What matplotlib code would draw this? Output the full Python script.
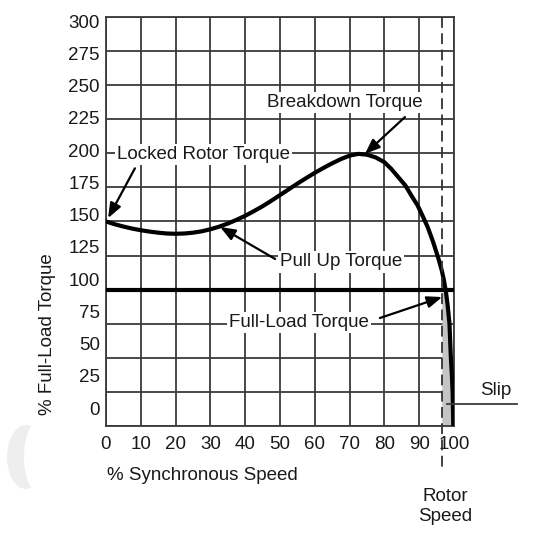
import numpy as np
import matplotlib
matplotlib.use('Agg')
import matplotlib.pyplot as plt
from matplotlib.patches import Ellipse

# torque-speed curve
speed = [0, 2.5, 5, 7.5, 10, 12.5, 15, 17.5, 20, 22.5, 25, 27.5, 30, 32.5, 35,
         37.5, 40, 42.5, 45, 47.5, 50, 52.5, 55, 57.5, 60, 62.5, 65, 67.5, 70,
         72.5, 75, 77.5, 80, 82, 84, 86, 88, 89.5, 91, 92.5, 94, 95.5, 96.5,
         97.1, 97.7, 98.2, 98.7, 99.1, 99.4, 99.6, 99.8]
torque = [150, 148, 146.3, 144.8, 143.6, 142.6, 141.8, 141.2, 141, 141.2, 141.8,
          142.8, 144.3, 146.2, 148.5, 151.2, 154.2, 157.6, 161.2, 165.2, 169.4,
          173.6, 177.8, 181.8, 185.7, 189.3, 192.7, 195.8, 198.3, 199.6, 199,
          197, 193.5, 188.5, 182.5, 176.5, 168, 162, 154, 145.5, 135, 123, 114,
          107, 98, 88, 75, 50, 37, 25, 0]

full_load = 100
rotor_speed = 96.5

x_ticks = [0, 10, 20, 30, 40, 50, 60, 70, 80, 90, 100]
y_ticks = [0, 25, 50, 75, 100, 125, 150, 175, 200, 225, 250, 275, 300]

# slip region: part of the curve below full load
slip_speed = [97.7, 98.2, 98.7, 99.1, 99.4, 99.6, 99.8]
slip_torque = [98, 88, 75, 50, 37, 25, 0]

plt.rcParams['font.family'] = ['Liberation Sans', 'DejaVu Sans']
fs = 13.5
grid_col = '#3a3a3a'
text_col = '#1a1a1a'

fig = plt.figure(figsize=(5.39, 5.35), dpi=100)
ax = fig.add_axes([106 / 539, 1 - 426 / 535, 348 / 539, 409 / 535])
ax.set_xlim(0, 100)
ax.set_ylim(0, 300)

for v in x_ticks:
    ax.axvline(v, color=grid_col, lw=1.3, zorder=1)
for v in y_ticks:
    ax.axhline(v, color=grid_col, lw=1.3, zorder=1)
for s in ax.spines.values():
    s.set_color(grid_col)
    s.set_linewidth(1.3)

# labels sit a bit off the grid lines in the original
label_pos = 13.2 + np.array(y_ticks) * 0.946
ax.set_yticks(label_pos, [str(v) for v in y_ticks])
ax.set_xticks(x_ticks, [str(v) for v in x_ticks])
ax.tick_params(length=0, labelsize=fs, colors=text_col)
ax.tick_params(axis='y', pad=4.5)
ax.tick_params(axis='x', pad=7)

ax.fill_betweenx(slip_torque, rotor_speed, slip_speed, color='#c4c4c4', lw=0, zorder=2)
ax.axhline(full_load, color='black', lw=3, zorder=3)
ax.plot(speed, torque, color='black', lw=3, zorder=4, solid_joinstyle='round')

ax.plot([rotor_speed, rotor_speed], [300, -33.7], color='#333333', lw=1.3,
        ls=(0, (6, 3)), clip_on=False, zorder=5)

box = dict(facecolor='white', edgecolor='none', pad=1.5)
arrow = dict(arrowstyle='-|>,head_length=0.9,head_width=0.35', color='black',
             lw=1.6, shrinkA=0, shrinkB=0)

ax.text(3.2, 199, 'Locked Rotor Torque', fontsize=fs, color=text_col,
        ha='left', va='center', bbox=box, zorder=6)
ax.annotate('', xy=(0.6, torque[0] + 2.5), xytext=(8.3, 189), arrowprops=arrow, zorder=7)

ax.text(68.7, 237, 'Breakdown Torque', fontsize=fs, color=text_col,
        ha='center', va='center', bbox=box, zorder=6)
ax.annotate('', xy=(74.4, 199.5), xytext=(85.9, 226.6), arrowprops=arrow, zorder=7)

ax.text(67.5, 120.3, 'Pull Up Torque', fontsize=fs, color=text_col,
        ha='center', va='center', bbox=box, zorder=6)
ax.annotate('', xy=(32.8, 146), xytext=(48.6, 122.5), arrowprops=arrow, zorder=7)

ax.text(55.5, 75.6, 'Full-Load Torque', fontsize=fs, color=text_col,
        ha='center', va='center', bbox=box, zorder=6)
ax.annotate('', xy=(96.6, 94.6), xytext=(78.7, 79.2), arrowprops=arrow, zorder=7)

ax.text(107.5, 25.7, 'Slip', fontsize=fs, color=text_col, ha='left', va='center', clip_on=False)
ax.plot([98, 118.1], [16.1, 16.1], color=grid_col, lw=1.3, clip_on=False, zorder=5)

ax.text(97.4, -59, 'Rotor\nSpeed', fontsize=fs, color=text_col, ha='center', va='center',
        linespacing=1.2, clip_on=False)

fig.text(107 / 539, 1 - 476 / 535, '% Synchronous Speed', fontsize=fs, color=text_col,
         ha='left', va='center')
fig.text(48 / 539, 1 - 334 / 535, '% Full-Load Torque', fontsize=fs, color=text_col,
         ha='center', va='center', rotation=90)

# faint crescent smudge in the scan, lower left
fig.patches.append(Ellipse((26 / 539, 1 - 457 / 535), 38 / 539, 64 / 535,
                           transform=fig.transFigure, facecolor='#eeeeee',
                           edgecolor='none', zorder=0))
fig.patches.append(Ellipse((40 / 539, 1 - 457 / 535), 32 / 539, 74 / 535,
                           transform=fig.transFigure, facecolor='white',
                           edgecolor='none', zorder=0))

fig.savefig('out.png', dpi=100)
